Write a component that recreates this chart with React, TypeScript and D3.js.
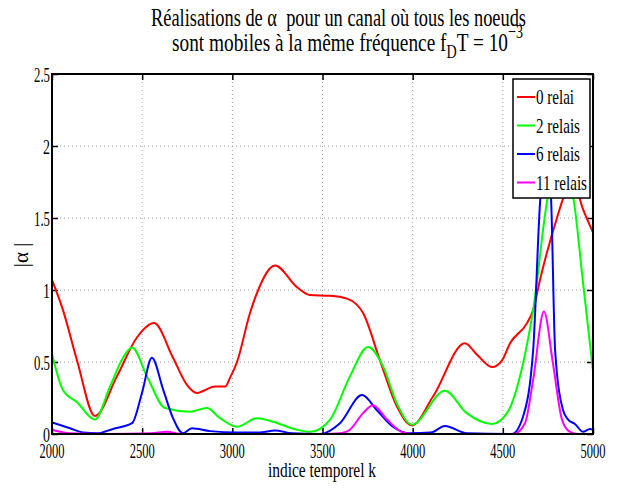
import React, { useEffect, useRef } from 'react';
import * as d3 from 'd3';

// values (k = indice temporel, v = |alpha|)
const relai0K = [2000, 2061, 2139, 2238, 2360, 2471, 2566, 2671, 2749, 2804, 2904, 2960, 2987, 3026, 3098, 3137, 3237, 3358, 3431, 3542, 3636, 3725, 3819, 3913, 3996, 4113, 4290, 4357, 4440, 4495, 4540, 4634, 4668, 4706, 4800, 4839, 4890, 4945, 5000];
const relai0V = [1.07, 0.86, 0.51, 0.125, 0.40, 0.67, 0.77, 0.53, 0.34, 0.285, 0.33, 0.33, 0.39, 0.50, 0.84, 0.98, 1.17, 1.02, 0.965, 0.96, 0.94, 0.84, 0.51, 0.19, 0.06, 0.26, 0.63, 0.55, 0.465, 0.51, 0.63, 0.77, 0.86, 1.07, 1.5, 1.65, 1.75, 1.56, 1.40];

const relais2K = [2000, 2061, 2139, 2238, 2322, 2394, 2444, 2527, 2627, 2765, 2859, 2932, 3026, 3137, 3226, 3358, 3431, 3542, 3652, 3752, 3836, 3913, 3996, 4179, 4300, 4440, 4523, 4612, 4668, 4750, 4815, 4889, 4945, 5000];
const relais2V = [0.555, 0.305, 0.22, 0.10, 0.33, 0.53, 0.60, 0.40, 0.18, 0.155, 0.18, 0.11, 0.05, 0.11, 0.085, 0.03, 0.015, 0.10, 0.40, 0.605, 0.47, 0.21, 0.065, 0.30, 0.145, 0.07, 0.145, 0.49, 0.86, 1.65, 1.88, 1.65, 1.05, 0.44];

const relais6K = [2000, 2100, 2172, 2250, 2338, 2444, 2499, 2554, 2616, 2671, 2726, 2776, 2876, 3026, 3150, 3237, 3330, 3486, 3597, 3719, 3802, 3891, 3985, 4100, 4179, 4300, 4550, 4612, 4668, 4706, 4740, 4767, 4790, 4834, 4862, 4900, 4945, 4983, 5000];
const relais6V = [0.08, 0.04, 0.01, 0.005, 0.035, 0.075, 0.285, 0.53, 0.31, 0.11, 0.005, 0.04, 0.02, 0.01, 0.01, 0.025, 0.005, 0.0, 0.075, 0.27, 0.165, 0.05, 0.005, 0.01, 0.055, 0.005, 0.0, 0.12, 0.58, 1.6, 2.0, 1.65, 0.58, 0.165, 0.1, 0.07, 0.015, 0.035, 0.03];

const relais11K = [2000, 2100, 2300, 2550, 2638, 2720, 3500, 3600, 3652, 3725, 3780, 3858, 3946, 4000, 4560, 4623, 4668, 4728, 4778, 4828, 4872, 4920, 5000];
const relais11V = [0.03, 0.005, 0.0, 0.005, 0.015, 0.0, 0.0, 0.005, 0.03, 0.145, 0.2, 0.1, 0.01, 0.0, 0.0, 0.075, 0.375, 0.85, 0.49, 0.1, 0.015, 0.0, 0.0];

const seriesNames = ['0 relai', '2 relais', '6 relais', '11 relais'];
const seriesColors = ['#ff0000', '#00ff00', '#0000ff', '#ff00ff'];
const xTicks = [2000, 2500, 3000, 3500, 4000, 4500, 5000];
const yTicks = [0, 0.5, 1, 1.5, 2, 2.5];
const yTickLabels = ['0', '0.5', '1', '1.5', '2', '2.5'];

const FONT = "'Liberation Serif', 'Times New Roman', serif";

export default function App() {
  const svgRef = useRef<SVGSVGElement>(null);

  useEffect(() => {
    if (!svgRef.current) return;
    const width = 625;
    const height = 490;
    const margin = { top: 74, right: 32, bottom: 56, left: 52 };
    const innerW = width - margin.left - margin.right;
    const innerH = height - margin.top - margin.bottom;

    d3.select(svgRef.current).selectAll('*').remove();
    const root = d3.select(svgRef.current)
      .attr('width', width)
      .attr('height', height);

    root.append('rect').attr('width', width).attr('height', height).attr('fill', '#ffffff');

    const svg = root.append('g').attr('transform', `translate(${margin.left},${margin.top})`);

    const x = d3.scaleLinear().domain([2000, 5000]).range([0, innerW]);
    const y = d3.scaleLinear().domain([0, 2.5]).range([innerH, 0]);

    // grid
    svg.append('g')
      .selectAll('line')
      .data(xTicks.slice(1, -1))
      .join('line')
      .attr('x1', d => x(d)).attr('x2', d => x(d))
      .attr('y1', 0).attr('y2', innerH)
      .attr('stroke', '#a0a0a0').attr('stroke-width', 1).attr('stroke-dasharray', '1,3');
    svg.append('g')
      .selectAll('line')
      .data(yTicks.slice(1, -1))
      .join('line')
      .attr('x1', 0).attr('x2', innerW)
      .attr('y1', d => y(d)).attr('y2', d => y(d))
      .attr('stroke', '#a0a0a0').attr('stroke-width', 1).attr('stroke-dasharray', '1,3');

    // axes (ticks inward, MATLAB box style)
    const tick = 6;
    svg.append('g')
      .attr('transform', `translate(0,${innerH})`)
      .call(d3.axisBottom(x).tickValues(xTicks).tickSize(-tick).tickFormat(() => ''))
      .call(g => g.select('.domain').remove())
      .call(g => g.selectAll('.tick line').attr('stroke', '#000').attr('stroke-width', 1.5));
    svg.append('g')
      .call(d3.axisTop(x).tickValues(xTicks).tickSize(-tick).tickFormat(() => ''))
      .call(g => g.select('.domain').remove())
      .call(g => g.selectAll('.tick line').attr('stroke', '#000').attr('stroke-width', 1.5));
    svg.append('g')
      .call(d3.axisLeft(y).tickValues(yTicks).tickSize(-tick).tickFormat(() => ''))
      .call(g => g.select('.domain').remove())
      .call(g => g.selectAll('.tick line').attr('stroke', '#000').attr('stroke-width', 1.5));
    svg.append('g')
      .attr('transform', `translate(${innerW},0)`)
      .call(d3.axisRight(y).tickValues(yTicks).tickSize(-tick).tickFormat(() => ''))
      .call(g => g.select('.domain').remove())
      .call(g => g.selectAll('.tick line').attr('stroke', '#000').attr('stroke-width', 1.5));

    // tick labels
    svg.append('g')
      .selectAll('text')
      .data(xTicks)
      .join('text')
      .attr('x', d => x(d))
      .attr('y', innerH + 24)
      .attr('text-anchor', 'middle')
      .attr('font-family', FONT)
      .attr('font-size', 21)
      .attr('textLength', 25)
      .attr('lengthAdjust', 'spacingAndGlyphs')
      .text(d => String(d));
    svg.append('g')
      .selectAll('text')
      .data(yTicks)
      .join('text')
      .attr('x', -2)
      .attr('y', d => y(d) + 8)
      .attr('text-anchor', 'end')
      .attr('font-family', FONT)
      .attr('font-size', 20)
      .attr('textLength', (d, i) => (yTickLabels[i].length > 1 ? 16 : 7))
      .attr('lengthAdjust', 'spacingAndGlyphs')
      .text((d, i) => yTickLabels[i]);

    // lines
    const all = [
      { k: relai0K, v: relai0V },
      { k: relais2K, v: relais2V },
      { k: relais6K, v: relais6V },
      { k: relais11K, v: relais11V },
    ];
    const line = d3.line<[number, number]>()
      .x(d => x(d[0]))
      .y(d => y(d[1]))
      .curve(d3.curveMonotoneX);
    all.forEach((s, i) => {
      const pts = s.k.map((k, j) => [k, s.v[j]] as [number, number]);
      svg.append('path')
        .datum(pts)
        .attr('fill', 'none')
        .attr('stroke', seriesColors[i])
        .attr('stroke-width', 2)
        .attr('stroke-linejoin', 'round')
        .attr('d', line);
    });

    // frame
    svg.append('rect')
      .attr('width', innerW).attr('height', innerH)
      .attr('fill', 'none').attr('stroke', '#000').attr('stroke-width', 2);

    // legend
    const lg = root.append('g').attr('transform', 'translate(513,79)');
    lg.append('rect').attr('width', 77).attr('height', 119)
      .attr('fill', '#fff').attr('stroke', '#000').attr('stroke-width', 1.5);
    const legendW = [38, 44, 44, 51];
    seriesNames.forEach((name, i) => {
      const cy = 18 + i * 28.5;
      lg.append('line').attr('x1', 4).attr('x2', 22).attr('y1', cy).attr('y2', cy)
        .attr('stroke', seriesColors[i]).attr('stroke-width', 2);
      lg.append('text')
        .attr('x', 23).attr('y', cy + 7)
        .attr('font-family', FONT).attr('font-size', 21)
        .attr('textLength', legendW[i]).attr('lengthAdjust', 'spacingAndGlyphs')
        .text(name);
    });

    // axis labels
    root.append('text')
      .attr('x', 322).attr('y', 477)
      .attr('text-anchor', 'middle')
      .attr('font-family', FONT).attr('font-size', 21)
      .attr('textLength', 108).attr('lengthAdjust', 'spacingAndGlyphs')
      .text('indice temporel k');
    root.append('text')
      .attr('transform', 'translate(28,255) rotate(-90)')
      .attr('text-anchor', 'middle')
      .attr('font-family', FONT).attr('font-size', 21)
      .style('white-space', 'pre')
      .text('|\u03b1 |');

    // title
    root.append('text')
      .attr('x', 151).attr('y', 26)
      .attr('font-family', FONT).attr('font-size', 26)
      .attr('textLength', 375).attr('lengthAdjust', 'spacingAndGlyphs')
      .style('white-space', 'pre')
      .text('R\u00e9alisations de \u03b1  pour un canal o\u00f9 tous les noeuds');
    const t2 = root.append('text')
      .attr('x', 172).attr('y', 51)
      .attr('font-family', FONT).attr('font-size', 26)
      .attr('textLength', 351).attr('lengthAdjust', 'spacingAndGlyphs')
      .style('white-space', 'pre');
    t2.append('tspan').text('sont mobiles \u00e0 la m\u00eame fr\u00e9quence f');
    t2.append('tspan').attr('dy', 7).attr('font-size', 19).text('D');
    t2.append('tspan').attr('dy', -7).text('T = 10');
    t2.append('tspan').attr('dy', -13).attr('font-size', 19).text('\u22123');
  }, []);

  return (
    <div style={{ position: 'absolute', left: 0, top: 0 }}>
      <svg ref={svgRef} style={{ display: 'block' }} />
    </div>
  );
}
